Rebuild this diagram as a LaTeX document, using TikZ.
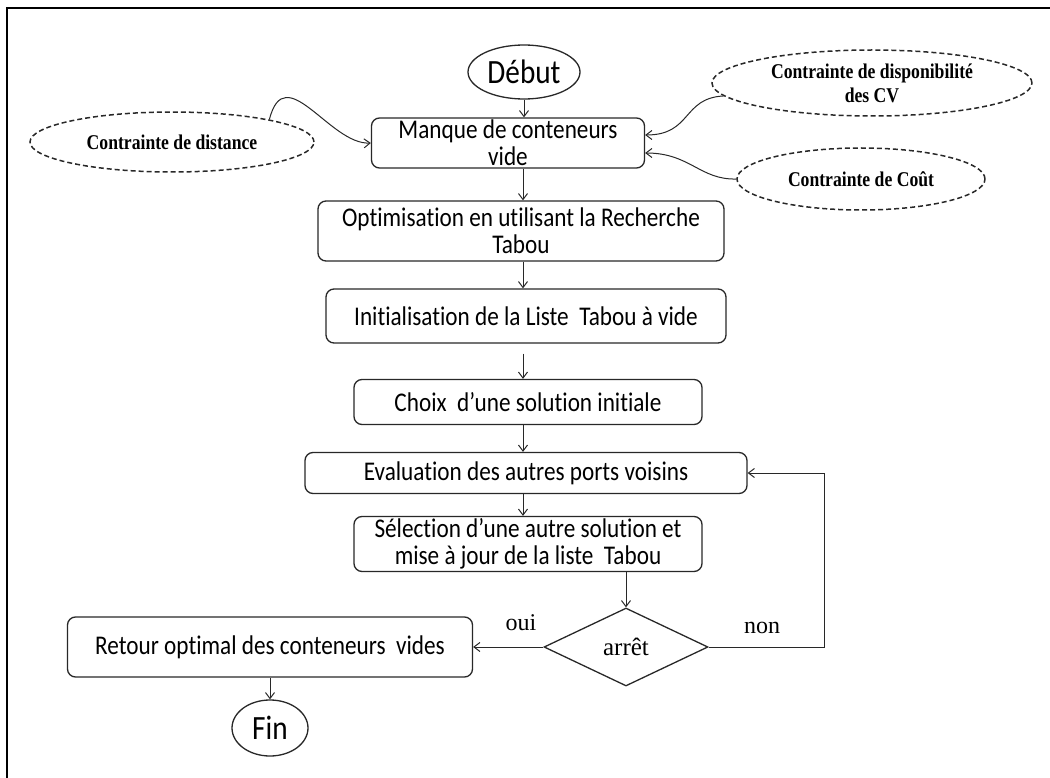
\documentclass[tikz,border=0pt]{standalone}
\usepackage{fontspec}
\setmainfont{Carlito}[FakeStretch=0.86, Ligatures=NoCommon]
\newfontfamily\contrfont{Liberation Serif}[FakeStretch=0.84]
\newfontfamily\labelfont{Liberation Serif}
\usepackage{tikz}
\usetikzlibrary{arrows,arrows.meta,shapes,positioning}
\definecolor{trait}{RGB}{40,40,40}
\tikzstyle{etape} = [draw=trait, rounded corners=8pt, line width=1.3pt, align=center, inner sep=0pt, font=\fontsize{27}{27}\selectfont]
\tikzstyle{terminal} = [draw=trait, ellipse, line width=1.3pt, inner sep=0pt, font=\fontsize{34}{36}\selectfont]
\tikzstyle{contrainte} = [draw=trait, ellipse, dash pattern=on 5pt off 3pt, line width=1.5pt, inner sep=0pt, align=center, font=\contrfont\bfseries\fontsize{21}{24}\selectfont]
\tikzstyle{fleche} = [-{Straight Barb[length=6pt,width=9pt]}, line width=1pt, color=trait]

\begin{document}
\begin{tikzpicture}[x=1pt, y=-1pt]
\useasboundingbox (0,0) rectangle (1050,778);
% cadre
\draw[line width=1.6pt] (1050,8) -- (7,8) -- (7,778);

% debut et contraintes
\node[terminal, minimum width=112pt, minimum height=54pt] (debut) at (524,72) {Début};
\node[etape, minimum width=273pt, minimum height=50pt] (manque) at (508,143) {Manque de conteneurs\\vide};
\node[contrainte, minimum width=284pt, minimum height=60pt] (distance) at (172,142) {Contrainte de distance};
\node[contrainte, minimum width=320pt, minimum height=66pt] (dispo) at (872,83) {Contrainte de disponibilité\\des CV};
\node[contrainte, minimum width=248pt, minimum height=62pt] (cout) at (861,179) {Contrainte de Coût};

% etapes de la recherche tabou
\node[etape, minimum width=406pt, minimum height=60pt] (optim) at (521,231) {Optimisation en utilisant la Recherche\\Tabou};
\node[etape, minimum width=400pt, minimum height=54pt] (init) at (526,316) {Initialisation de la Liste~ Tabou à vide};
\node[etape, minimum width=348pt, minimum height=45pt] (choix) at (528,402) {Choix~ d'une solution initiale};
\node[etape, minimum width=442pt, minimum height=41pt] (eval) at (526,473) {Evaluation des autres ports voisins};
\node[etape, minimum width=348pt, minimum height=55pt] (select) at (528,544) {Sélection d'une autre solution et\\mise à jour de la liste~ Tabou};
\node[draw=trait, diamond, line width=1.3pt, inner sep=0pt, minimum width=164pt, minimum height=78pt, font=\labelfont\fontsize{25}{26}\selectfont] (arret) at (626,647) {arrêt};
\node[etape, minimum width=405pt, minimum height=60pt] (retour) at (270,647) {Retour optimal des conteneurs~ vides};
\node[terminal, minimum width=76pt, minimum height=56pt] (fin) at (270,728) {Fin};

\node[font=\labelfont\fontsize{24}{25}\selectfont] (oui) at (521,623) {oui};
\node[font=\labelfont\fontsize{24}{25}\selectfont] (non) at (762,628) {non};

% fleches
\coordinate (axe) at (523,0);
\coordinate (boucle) at (824,647);
\draw[fleche] (debut.south) -- (manque.north -| debut.south);
\draw[fleche] (manque.south -| axe) -- (optim.north -| axe);
\draw[fleche] (optim.south -| axe) -- (init.north -| axe);
\draw[fleche, shorten <=10pt] (init.south -| axe) -- (choix.north -| axe);
\draw[fleche] (choix.south -| axe) -- (eval.north -| axe);
\draw[fleche] (eval.south -| axe) -- (select.north -| axe);
\draw[fleche] (select.south -| arret) -- (arret.north);
\draw[fleche] (arret.west) -- (retour.east);
\draw[fleche] (arret.east) -- (boucle) |- (eval.east);
\draw[fleche] (retour.south -| fin) -- (fin.north);

% contraintes vers le manque
\draw[fleche] (distance.13) .. controls (285,58) and (330,145) .. (manque.west);
\draw[fleche] (dispo.185) .. controls (682,98) and (692,135) .. ([yshift=8pt]manque.east);
\draw[fleche] (cout.west) .. controls (700,180) and (690,153) .. ([yshift=-10pt]manque.east);
\end{tikzpicture}
\end{document}
